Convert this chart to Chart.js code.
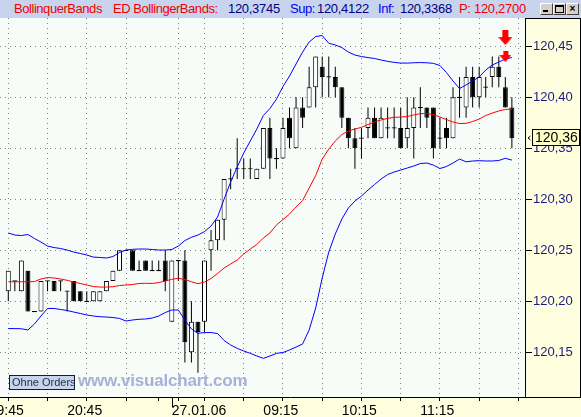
<!DOCTYPE html>
<html>
<head>
<meta charset="utf-8">
<script src="https://cdn.jsdelivr.net/npm/chart.js@4.4.1/dist/chart.umd.min.js"></script>
<style>
  html, body { margin: 0; padding: 0; background: #FFFFE0; }
  #wrap { position: relative; width: 581px; height: 417px; overflow: hidden;
          font-family: "Liberation Sans", Arial, sans-serif; }
  #hdr { position: absolute; left: 0; top: 0; width: 581px; height: 18px; background: #C8D4EE;
         font-size: 13px; line-height: 18px; white-space: nowrap; }
  #hdr span { position: absolute; top: 0; }
  .w { letter-spacing: -0.45px; }
  .n { letter-spacing: -0.3px; }
  .red { color: #F00000; }
  .navy { color: #000080; }
  .blue { color: #0000F0; }
  .btn { position: absolute; top: 3px; width: 11px; height: 10px; background: #D4D0C8;
         border: 1px solid; border-color: #FFFFFF #404040 #404040 #FFFFFF; }
  #chart { position: absolute; left: 0; top: 18px; }
  #orders { position: absolute; left: 9px; top: 375px; width: 66px; height: 15px; box-sizing: border-box;
            border: 1px solid #1A1A40; background: #C8D4EC; color: #203050;
            font-size: 11px; line-height: 13px; padding-left: 2px; white-space: nowrap; }
  #wm { position: absolute; left: 78px; top: 372px; font-size: 17px; font-weight: bold;
        letter-spacing: -0.2px; color: #A8B0D8; line-height: 17px; white-space: nowrap; }
</style>
</head>
<body>
<div id="wrap">
  <div id="hdr">
    <span class="red w" style="left:14px">BollinquerBands</span>
    <span class="red w" style="left:113px">ED BollingerBands:</span>
    <span class="navy n" style="left:228px">120,3745</span>
    <span class="blue w" style="left:290px">Sup:</span>
    <span class="navy n" style="left:317px">120,4122</span>
    <span class="blue w" style="left:378px">Inf:</span>
    <span class="navy n" style="left:400px">120,3368</span>
    <span class="red n" style="left:459px">P: 120,2700</span>
    <div class="btn" style="left:540px"><div style="position:absolute;left:2px;top:6px;width:5px;height:2px;background:#000"></div></div>
    <div class="btn" style="left:553px"><div style="position:absolute;left:1px;top:1px;width:7px;height:5px;border:1px solid #000;border-top-width:2px"></div></div>
    <div class="btn" style="left:566px;font-size:10px;line-height:10px;text-align:center;font-weight:bold">×</div>
  </div>
  <canvas id="chart" width="581" height="399"></canvas>
  <div id="orders">Ohne Orders</div>
  <div id="wm">www.visualchart.com</div>
</div>

<script>
// ========================================
// DATA
// ========================================

// 5-minute candles, 26/27.01.06
const opens = [
  120.21,120.22,120.21,120.23,120.19,120.19,120.22,120.22,120.22,120.21,
  120.22,120.21,120.20,120.20,120.20,120.21,120.22,120.23,120.25,120.25,
  120.23,120.24,120.23,120.23,120.24,120.18,120.24,120.24,120.15,120.18,
  120.18,120.25,120.26,120.28,120.32,120.33,120.33,120.33,120.32,120.33,
  120.37,120.34,120.34,120.38,120.35,120.39,120.39,120.41,120.43,120.42,
  120.42,120.41,120.38,120.36,120.36,120.37,120.38,120.36,120.37,120.37,
  120.37,120.36,120.37,120.39,120.39,120.39,120.36,120.37,120.36,120.40,
  120.39,120.42,120.40,120.41,120.42,120.43,120.41,120.39
];
const highs = [
  120.23,120.22,120.24,120.23,120.19,120.22,120.22,120.22,120.22,120.21,
  120.22,120.21,120.21,120.21,120.21,120.22,120.23,120.25,120.25,120.25,
  120.24,120.24,120.24,120.24,120.25,120.24,120.24,120.25,120.20,120.18,
  120.24,120.27,120.28,120.32,120.33,120.36,120.34,120.34,120.33,120.37,
  120.38,120.35,120.38,120.39,120.40,120.40,120.43,120.44,120.44,120.44,
  120.43,120.41,120.38,120.37,120.37,120.39,120.39,120.39,120.39,120.39,
  120.39,120.40,120.40,120.41,120.39,120.39,120.38,120.38,120.41,120.42,
  120.43,120.43,120.43,120.42,120.44,120.44,120.42,120.40
];
const lows = [
  120.20,120.21,120.21,120.19,120.19,120.19,120.21,120.21,120.21,120.19,
  120.20,120.20,120.20,120.20,120.20,120.21,120.22,120.23,120.25,120.23,
  120.23,120.23,120.23,120.23,120.21,120.18,120.22,120.14,120.14,120.13,
  120.17,120.23,120.25,120.26,120.31,120.32,120.32,120.32,120.32,120.33,
  120.32,120.33,120.34,120.35,120.35,120.37,120.39,120.39,120.40,120.40,
  120.40,120.37,120.35,120.33,120.34,120.36,120.36,120.36,120.36,120.36,
  120.35,120.35,120.34,120.37,120.37,120.34,120.35,120.35,120.36,120.38,
  120.38,120.39,120.39,120.40,120.41,120.41,120.39,120.35
];
const closes = [
  120.23,120.22,120.24,120.19,120.19,120.22,120.22,120.21,120.22,120.21,
  120.20,120.20,120.20,120.21,120.21,120.22,120.23,120.25,120.25,120.23,
  120.23,120.23,120.23,120.23,120.22,120.24,120.24,120.16,120.18,120.17,
  120.24,120.26,120.28,120.32,120.32,120.33,120.33,120.33,120.33,120.37,
  120.34,120.34,120.37,120.36,120.39,120.38,120.41,120.44,120.42,120.42,
  120.41,120.38,120.36,120.35,120.36,120.38,120.36,120.38,120.37,120.37,
  120.35,120.37,120.39,120.39,120.38,120.35,120.36,120.36,120.40,120.40,
  120.42,120.40,120.42,120.41,120.43,120.42,120.39,120.36
];

// Bollinger bands
const bbUpper = [
  120.2670,120.2650,120.2645,120.2655,120.2616,120.2581,120.2542,120.2527,120.2518,120.2503,
  120.2483,120.2469,120.2454,120.2434,120.2430,120.2425,120.2439,120.2479,120.2503,120.2510,
  120.2513,120.2513,120.2508,120.2503,120.2503,120.2508,120.2542,120.2596,120.2628,120.2650,
  120.2684,120.2738,120.2827,120.3003,120.3170,120.3317,120.3454,120.3572,120.3689,120.3822,
  120.3890,120.3983,120.4106,120.4209,120.4327,120.4444,120.4542,120.4596,120.4606,120.4530,
  120.4513,120.4488,120.4444,120.4415,120.4400,120.4390,120.4381,120.4366,120.4353,120.4343,
  120.4336,120.4336,120.4339,120.4341,120.4339,120.4333,120.4312,120.4243,120.4160,120.4086,
  120.4122,120.4160,120.4199,120.4268,120.4317,120.4346,120.4376,120.4390
];
const bbMiddle = [
  120.2192,120.2192,120.2192,120.2192,120.2194,120.2219,120.2233,120.2229,120.2219,120.2206,
  120.2189,120.2175,120.2160,120.2145,120.2140,120.2140,120.2143,120.2155,120.2160,120.2165,
  120.2175,120.2177,120.2175,120.2184,120.2199,120.2216,120.2226,120.2214,120.2192,120.2173,
  120.2189,120.2224,120.2273,120.2327,120.2366,120.2405,120.2464,120.2513,120.2557,120.2621,
  120.2670,120.2748,120.2802,120.2856,120.2925,120.2988,120.3111,120.3233,120.3395,120.3493,
  120.3572,120.3635,120.3670,120.3689,120.3706,120.3733,120.3758,120.3778,120.3794,120.3804,
  120.3807,120.3812,120.3827,120.3841,120.3841,120.3832,120.3807,120.3782,120.3758,120.3743,
  120.3745,120.3763,120.3787,120.3822,120.3846,120.3866,120.3881,120.3885
];
const bbLower = [
  120.1733,120.1733,120.1731,120.1719,120.1778,120.1856,120.1930,120.1930,120.1920,120.1910,
  120.1895,120.1881,120.1866,120.1856,120.1849,120.1846,120.1841,120.1832,120.1807,120.1817,
  120.1824,120.1827,120.1836,120.1856,120.1890,120.1915,120.1915,120.1817,120.1729,120.1686,
  120.1694,120.1694,120.1684,120.1616,120.1572,120.1539,120.1513,120.1490,120.1464,120.1441,
  120.1464,120.1490,120.1498,120.1523,120.1552,120.1582,120.1719,120.1934,120.2229,120.2483,
  120.2660,120.2807,120.2915,120.2983,120.3032,120.3091,120.3145,120.3199,120.3243,120.3268,
  120.3287,120.3307,120.3327,120.3351,120.3356,120.3336,120.3302,120.3322,120.3356,120.3395,
  120.3368,120.3376,120.3379,120.3376,120.3376,120.3381,120.3402,120.3385
];

// Sell signals (red arrows)
const signalIdx = [76, 76];
const signalPrice = [120.4586, 120.4400];

// Axis ticks
const xTickPos  = [-3, 3, 9, 15, 21, 25, 27, 33, 39, 45, 51, 57, 63, 69, 75];
const xTickText = ['19:45', '', '20:45', '', '', '27.01.06', '', '', '09:15', '', '10:15', '', '11:15', '', ''];
const dayBreaks = [25];
const yTickVals = [120.15, 120.20, 120.25, 120.30, 120.35, 120.40, 120.45];

// ========================================
// CHART
// ========================================

const FONT = '"Liberation Sans", Arial, sans-serif';
Chart.defaults.font.family = FONT;

const idx = closes.map((_, i) => i);

const bodyData = idx.map(i => {
    const lo = Math.min(opens[i], closes[i]);
    const hi = Math.max(opens[i], closes[i]);
    return { x: i, y: lo === hi ? [lo - 0.0006, hi + 0.0006] : [lo, hi] };
});
const bodyFill = idx.map(i => closes[i] > opens[i] ? '#FFFFFF' : '#000000');
const wickData = idx.map(i => ({ x: i, y: [lows[i], highs[i]] }));

// Red down arrow used as point style
function makeArrow(w, h, stemW, stemH) {
    const c = document.createElement('canvas');
    c.width = w; c.height = h;
    const g = c.getContext('2d');
    g.fillStyle = '#FF0000';
    g.fillRect(Math.round((w - stemW) / 2), 0, stemW, stemH);
    g.beginPath();
    g.moveTo(0, stemH);
    g.lineTo(w, stemH);
    g.lineTo(w / 2, h);
    g.closePath();
    g.fill();
    return c;
}
const arrowStyles = [makeArrow(14, 15, 6, 7), makeArrow(12, 11, 5, 4)];

// no auto padding from the tick labels
function noPad(s) {
    s.paddingLeft = 0; s.paddingRight = 0;
    s.paddingTop = 0; s.paddingBottom = 0;
}

const framePlugin = {
    id: 'frame',
    beforeDraw(chart) {
        const { ctx, chartArea: a, width, height } = chart;
        ctx.save();
        ctx.fillStyle = '#FFFFE0';
        ctx.fillRect(0, 0, width, height);
        ctx.fillStyle = '#F8FCF8';
        ctx.fillRect(a.left, a.top, a.right - a.left, a.bottom - a.top);
        ctx.restore();
    },
    afterDraw(chart) {
        const { ctx, chartArea: a, width } = chart;
        const xs = chart.scales.x, ys = chart.scales.y;
        const rx = Math.round(a.right) - 0.5;
        const by = Math.round(a.bottom) + 0.5;
        ctx.save();
        ctx.strokeStyle = '#000';
        ctx.lineWidth = 1;
        ctx.beginPath();
        ctx.moveTo(rx, 0); ctx.lineTo(rx, by);
        ctx.moveTo(0, by); ctx.lineTo(width, by);
        ctx.moveTo(rx, 0.5); ctx.lineTo(width, 0.5);
        ctx.moveTo(width - 0.5, 0); ctx.lineTo(width - 0.5, by);
        dayBreaks.forEach(d => {
            const x = Math.round(xs.getPixelForValue(d)) + 0.5;
            ctx.moveTo(x, by); ctx.lineTo(x, by + 10);
        });
        ctx.stroke();

        // last price box
        const last = closes[closes.length - 1];
        const py = Math.round(ys.getPixelForValue(last));
        const bx = Math.round(a.right) + 6;
        ctx.fillStyle = '#FFFFC8';
        ctx.fillRect(bx, py - 9, width - 1 - bx, 17);
        ctx.strokeRect(bx + 0.5, py - 8.5, width - 2 - bx, 16);
        ctx.fillStyle = '#000';
        ctx.font = '14px ' + FONT;
        ctx.textBaseline = 'middle';
        ctx.textAlign = 'left';
        ctx.fillText(last.toFixed(2).replace('.', ','), bx + 3, py + 0.5);
        ctx.beginPath();
        ctx.moveTo(rx + 5, py - 2); ctx.lineTo(rx + 2.5, py); ctx.lineTo(rx + 5, py + 2);
        ctx.stroke();
        ctx.restore();
    }
};

new Chart(document.getElementById('chart'), {
    type: 'bar',
    data: {
        datasets: [
            {
                label: 'Sup',
                type: 'line',
                data: idx.map(i => ({ x: i, y: bbUpper[i] })),
                borderColor: '#0000FF',
                borderWidth: 1,
                pointRadius: 0,
                tension: 0,
                order: 1
            },
            {
                label: 'ED BollingerBands',
                type: 'line',
                data: idx.map(i => ({ x: i, y: bbMiddle[i] })),
                borderColor: '#FF0000',
                borderWidth: 1,
                pointRadius: 0,
                tension: 0,
                order: 1
            },
            {
                label: 'Inf',
                type: 'line',
                data: idx.map(i => ({ x: i, y: bbLower[i] })),
                borderColor: '#0000FF',
                borderWidth: 1,
                pointRadius: 0,
                tension: 0,
                order: 1
            },
            {
                label: 'bodies',
                data: bodyData,
                backgroundColor: bodyFill,
                borderColor: '#000000',
                borderWidth: 1,
                borderSkipped: false,
                inflateAmount: 0,
                barThickness: 5,
                maxBarThickness: 5,
                grouped: false,
                order: 2
            },
            {
                label: 'wicks',
                data: wickData,
                backgroundColor: '#000000',
                borderWidth: 0,
                inflateAmount: 0,
                barThickness: 1,
                maxBarThickness: 1,
                grouped: false,
                order: 3
            },
            {
                label: 'signals',
                type: 'line',
                showLine: false,
                data: signalIdx.map((x, k) => ({ x: x, y: signalPrice[k] })),
                pointStyle: arrowStyles,
                pointRadius: 7,
                order: 0
            }
        ]
    },
    options: {
        responsive: false,
        animation: false,
        devicePixelRatio: 1,
        layout: { padding: 0, autoPadding: false },
        plugins: {
            legend: { display: false },
            tooltip: { enabled: false }
        },
        scales: {
            x: {
                type: 'linear',
                min: -1.269,
                max: 79.16,
                offset: false,
                afterBuildTicks: s => { s.ticks = xTickPos.map(v => ({ value: v })); },
                afterFit: s => { s.height = 20; noPad(s); },
                grid: {
                    color: c => dayBreaks.includes(xTickPos[c.index]) ? 'rgba(0,0,0,0)' : '#808080',
                    lineWidth: 1,
                    borderDash: [1, 4],
                    drawTicks: true,
                    tickLength: 4,
                    tickColor: '#000000',
                    tickBorderDash: []
                },
                border: { display: false, dash: [1, 4] },
                ticks: {
                    autoSkip: false,
                    maxRotation: 0,
                    minRotation: 0,
                    align: 'start',
                    padding: 2,
                    color: '#000000',
                    font: { size: 14 },
                    callback: (v, i) => xTickText[i]
                }
            },
            y: {
                position: 'right',
                min: 120.1062,
                max: 120.4778,
                afterBuildTicks: s => { s.ticks = yTickVals.map(v => ({ value: v })); },
                afterFit: s => { s.width = 55; noPad(s); },
                grid: {
                    color: '#808080',
                    lineWidth: 1,
                    borderDash: [1, 4],
                    drawTicks: true,
                    tickLength: 6,
                    tickColor: '#000000',
                    tickBorderDash: []
                },
                border: { display: false, dash: [1, 4] },
                ticks: {
                    padding: 1,
                    color: '#1A1A80',
                    font: { size: 13 },
                    callback: v => v.toFixed(2).replace('.', ',')
                }
            }
        }
    },
    plugins: [framePlugin]
});
</script>
</body>
</html>
